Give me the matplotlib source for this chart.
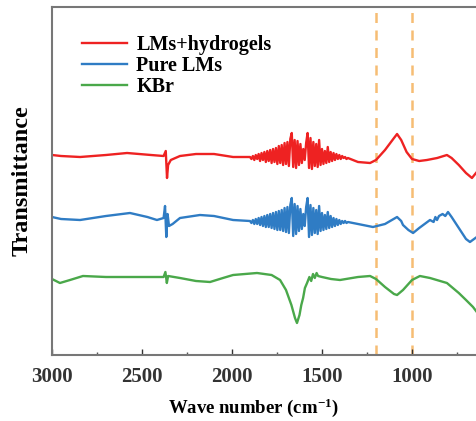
import numpy as np
import matplotlib
matplotlib.use('Agg')
import matplotlib.pyplot as plt
from matplotlib.ticker import MultipleLocator

plt.rcParams['font.family'] = ['Liberation Serif', 'DejaVu Serif']
plt.rcParams['font.weight'] = 'bold'
plt.rcParams['mathtext.fontset'] = 'custom'
plt.rcParams['mathtext.rm'] = 'Liberation Serif:bold'
plt.rcParams['mathtext.bf'] = 'Liberation Serif:bold'
plt.rcParams['mathtext.it'] = 'Liberation Serif:bold'

# noisy band sampling (cm-1)
noise_wn = list(range(1900, 1350, -8))

# LMs+hydrogels
red_wn_a = [3000, 2950, 2844, 2700, 2583, 2450, 2380, 2368, 2361, 2355, 2340, 2289, 2200, 2100, 1994]
red_a = [200, 199, 198, 200, 202, 200, 199, 204, 177, 190, 195, 199, 201, 201, 198]
red_noise = [198, 196, 199, 195, 200, 196, 201, 194, 202, 195,
             203, 193, 204, 194, 205, 192, 206, 193, 207, 191,
             209, 192, 210, 190, 212, 191, 213, 189, 216, 222,
             188, 215, 187, 214, 190, 211, 192, 206, 195, 212,
             222, 187, 217, 186, 213, 189, 211, 188, 215, 190,
             206, 191, 204, 192, 208, 193, 203, 194, 202, 195,
             201, 196, 200, 196, 199, 197, 198, 196, 197]
red_wn_b = [1300, 1233, 1200, 1150, 1100, 1083, 1060, 1030, 1000, 960, 917, 860, 806, 780, 740, 700, 667, 640]
red_b = [193, 192, 195, 205, 217, 221, 215, 203, 196, 194, 195, 197, 200, 197, 190, 182, 177, 183]

# Pure LMs
blue_wn_a = [3000, 2950, 2844, 2700, 2567, 2470, 2417, 2380, 2372, 2365, 2358, 2350, 2330, 2289, 2178, 2100, 1994]
blue_a = [138, 136, 135, 139, 142, 138, 135, 137, 149, 118, 141, 129, 131, 137, 140, 139, 135]
blue_noise = [134, 132, 135, 131, 136, 131, 137, 130, 138, 129,
              139, 128, 140, 128, 141, 127, 142, 126, 143, 125,
              144, 125, 145, 124, 147, 123, 148, 122, 150, 157,
              119, 151, 121, 149, 124, 146, 126, 141, 129, 148,
              157, 118, 150, 120, 147, 122, 145, 121, 149, 124,
              142, 125, 140, 126, 143, 127, 139, 128, 137, 129,
              136, 130, 135, 131, 134, 132, 134, 132, 133]
blue_wn_b = [1300, 1217, 1150, 1083, 1060, 1050, 1020, 994, 960, 930, 900, 880, 870, 861, 850,
             830, 815, 800, 780, 740, 700, 678, 640]
blue_b = [131, 128, 131, 138, 134, 130, 125, 122, 127, 131, 135, 133, 138, 135, 139,
          141, 139, 143, 138, 127, 116, 113, 118]

# KBr
green_wn = [3000, 2956, 2900, 2828, 2700, 2500, 2380, 2370, 2362, 2355, 2289, 2200, 2122, 2050, 1994,
            1861, 1780, 1733, 1700, 1670, 1650, 1639, 1625, 1615, 1605, 1595, 1583, 1570, 1560, 1550,
            1540, 1530, 1522, 1500, 1450, 1400, 1300, 1233, 1200, 1150, 1100, 1083, 1050, 1000, 956,
            900, 806, 740, 700, 661, 640]
green = [76, 72, 75, 79, 78, 78, 78, 83, 72, 79, 77, 74, 73, 77, 80,
         82, 80, 75, 65, 50, 37, 32, 40, 50, 57, 67, 72, 78, 74, 81,
         77, 82, 79, 78, 76, 75, 78, 79, 76, 68, 61, 60, 65, 75, 79,
         77, 72, 62, 55, 48, 43]

dashed_wn = [1200, 1000]
major_ticks = [3000, 2500, 2000, 1500, 1000]

fig = plt.figure(figsize=(4.76, 4.21), dpi=100)
ax = fig.add_axes([52 / 476, 66 / 421, 468 / 476, 348 / 421])

ax.plot(red_wn_a + noise_wn + red_wn_b, red_a + red_noise + red_b,
        color='#ee2222', lw=1.7, label='LMs+hydrogels')
ax.plot(blue_wn_a + noise_wn + blue_wn_b, blue_a + blue_noise + blue_b,
        color='#2f7cc4', lw=1.7, label='Pure LMs')
ax.plot(green_wn, green, color='#4aa84a', lw=1.7, label='KBr')

for w in dashed_wn:
    ax.axvline(w, color='#f6bd74', lw=1.8, ls=(0, (4, 3)), zorder=0)

ax.set_xlim(3000, 400)
ax.set_ylim(0, 348)
ax.set_xticks(major_ticks)
ax.xaxis.set_minor_locator(MultipleLocator(250))
ax.set_yticks([])
ax.tick_params(axis='x', direction='in', length=4, width=1, labelsize=15, colors='#333333',
               which='major', pad=9)
ax.tick_params(axis='x', direction='in', length=2.5, width=1, which='minor', colors='#555555')
for s in ax.spines.values():
    s.set_color('#777777')
    s.set_linewidth(1.5)

ax.set_xlabel('Wave number (cm$^{-1}$)', fontsize=13.5, fontweight='bold')
ax.xaxis.set_label_coords(0.43, -0.118)
ax.set_ylabel('Transmittance', fontsize=17.5, fontweight='bold', labelpad=14)

ax.legend(loc='upper left', frameon=False, fontsize=14.5, handlelength=2.25, labelspacing=0.05,
          bbox_to_anchor=(0.025, 0.972), handletextpad=0.45)

fig.savefig('out.png', dpi=100)
